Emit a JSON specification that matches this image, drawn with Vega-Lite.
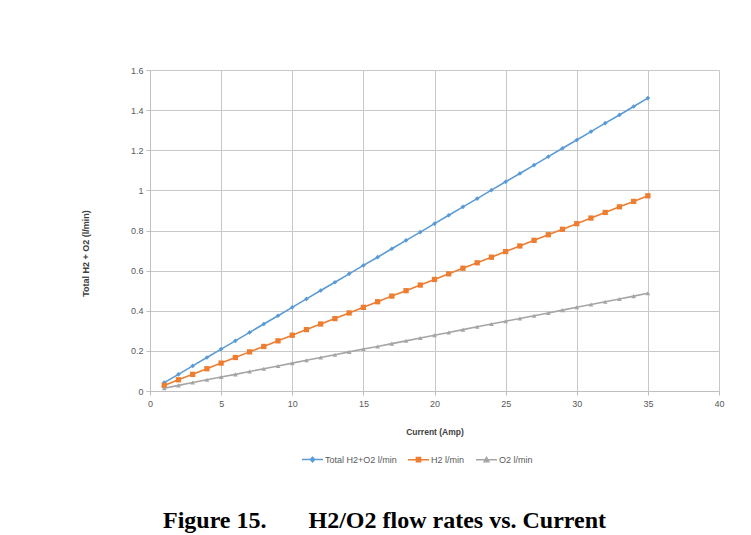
{
  "$schema": "https://vega.github.io/schema/vega-lite/v6.json",
  "width": 569,
  "height": 321,
  "autosize": {"type": "none"},
  "padding": {"left": 150, "top": 70, "right": 32, "bottom": 144},
  "background": "white",
  "title": {
    "text": "Figure 15.\u00a0\u00a0\u00a0\u00a0\u00a0\u00a0 H2/O2 flow rates vs. Current",
    "orient": "bottom",
    "anchor": "middle",
    "dx": -50,
    "offset": 44,
    "font": "Liberation Serif",
    "fontSize": 24,
    "fontWeight": "bold",
    "color": "black"
  },
  "data": {
    "values": [
      {"I": 1, "T": 0.042, "H": 0.028, "O": 0.014},
      {"I": 2, "T": 0.083, "H": 0.056, "O": 0.028},
      {"I": 3, "T": 0.125, "H": 0.083, "O": 0.042},
      {"I": 4, "T": 0.167, "H": 0.111, "O": 0.056},
      {"I": 5, "T": 0.209, "H": 0.139, "O": 0.070},
      {"I": 6, "T": 0.250, "H": 0.167, "O": 0.083},
      {"I": 7, "T": 0.292, "H": 0.195, "O": 0.097},
      {"I": 8, "T": 0.334, "H": 0.222, "O": 0.111},
      {"I": 9, "T": 0.375, "H": 0.250, "O": 0.125},
      {"I": 10, "T": 0.417, "H": 0.278, "O": 0.139},
      {"I": 11, "T": 0.459, "H": 0.306, "O": 0.153},
      {"I": 12, "T": 0.501, "H": 0.334, "O": 0.167},
      {"I": 13, "T": 0.542, "H": 0.361, "O": 0.181},
      {"I": 14, "T": 0.584, "H": 0.389, "O": 0.195},
      {"I": 15, "T": 0.626, "H": 0.417, "O": 0.209},
      {"I": 16, "T": 0.667, "H": 0.445, "O": 0.222},
      {"I": 17, "T": 0.709, "H": 0.473, "O": 0.236},
      {"I": 18, "T": 0.751, "H": 0.500, "O": 0.250},
      {"I": 19, "T": 0.792, "H": 0.528, "O": 0.264},
      {"I": 20, "T": 0.834, "H": 0.556, "O": 0.278},
      {"I": 21, "T": 0.876, "H": 0.584, "O": 0.292},
      {"I": 22, "T": 0.918, "H": 0.612, "O": 0.306},
      {"I": 23, "T": 0.959, "H": 0.639, "O": 0.320},
      {"I": 24, "T": 1.001, "H": 0.667, "O": 0.334},
      {"I": 25, "T": 1.043, "H": 0.695, "O": 0.348},
      {"I": 26, "T": 1.084, "H": 0.723, "O": 0.361},
      {"I": 27, "T": 1.126, "H": 0.751, "O": 0.375},
      {"I": 28, "T": 1.168, "H": 0.779, "O": 0.389},
      {"I": 29, "T": 1.210, "H": 0.806, "O": 0.403},
      {"I": 30, "T": 1.251, "H": 0.834, "O": 0.417},
      {"I": 31, "T": 1.293, "H": 0.862, "O": 0.431},
      {"I": 32, "T": 1.335, "H": 0.890, "O": 0.445},
      {"I": 33, "T": 1.376, "H": 0.918, "O": 0.459},
      {"I": 34, "T": 1.418, "H": 0.945, "O": 0.473},
      {"I": 35, "T": 1.460, "H": 0.973, "O": 0.487}
    ]
  },
  "transform": [{"fold": ["T", "H", "O"], "as": ["series", "flow"]}],
  "encoding": {
    "x": {
      "field": "I",
      "type": "quantitative",
      "scale": {"domain": [0, 40], "nice": false},
      "axis": {
        "values": [0, 5, 10, 15, 20, 25, 30, 35, 40],
        "title": "Current (Amp)",
        "titleFontSize": 8.5,
        "labelPadding": 4,
        "titleY": 40,
        "titleBaseline": "middle",
        "labelFlush": false
      }
    },
    "y": {
      "field": "flow",
      "type": "quantitative",
      "scale": {"domain": [0, 1.6], "nice": false},
      "axis": {
        "values": [0, 0.2, 0.4, 0.6, 0.8, 1, 1.2, 1.4, 1.6],
        "format": "~g",
        "title": "Total H2 + O2 (l/min)",
        "titleFontSize": 9,
        "labelPadding": 3,
        "titleX": -65,
        "titleY": 183,
        "titleBaseline": "middle",
        "titleAngle": 270
      }
    }
  },
  "layer": [
    {
      "mark": {"type": "line", "strokeWidth": 1.6},
      "encoding": {
        "color": {
          "field": "series",
          "type": "nominal",
          "scale": {"domain": ["T", "H", "O"], "range": ["#5B9BD5", "#ED7D31", "#A5A5A5"]},
          "legend": {
            "title": null,
            "orient": "none",
            "direction": "horizontal",
            "legendX": 151,
            "legendY": 378,
            "padding": 0,
            "symbolSize": 441,
            "symbolStrokeWidth": 1.5,
            "labelOffset": 1,
            "columnPadding": 8,
            "labelFont": "Liberation Sans",
            "labelFontSize": 9,
            "labelColor": "#595959",
            "labelExpr": "datum.label == 'T' ? 'Total H2+O2 l/min' : datum.label == 'H' ? 'H2 l/min' : 'O2 l/min'",
            "encode": {
              "symbols": {
                "update": {
                  "shape": {"signal": "datum.value == 'T' ? 'M-1,0H1M0,-0.22L0.2,0L0,0.22L-0.2,0Z' : datum.value == 'H' ? 'M-1,0H1M-0.2,-0.2H0.2V0.2H-0.2Z' : 'M-1,0H1M0,-0.22L0.22,0.18L-0.22,0.18Z'"},
                  "fill": {"scale": "color", "field": "value"},
                  "stroke": {"scale": "color", "field": "value"},
                  "strokeWidth": {"value": 1.5},
                  "opacity": {"value": 1}
                }
              }
            }
          }
        }
      }
    },
    {
      "transform": [{"filter": "datum.series == 'T'"}],
      "mark": {"type": "point", "filled": true, "opacity": 1, "shape": "diamond", "size": 22, "color": "#5B9BD5"}
    },
    {
      "transform": [{"filter": "datum.series == 'H'"}],
      "mark": {"type": "point", "filled": true, "opacity": 1, "shape": "square", "size": 28, "color": "#ED7D31"}
    },
    {
      "transform": [{"filter": "datum.series == 'O'"}],
      "mark": {"type": "point", "filled": true, "opacity": 1, "shape": "triangle-up", "size": 22, "color": "#A5A5A5"}
    }
  ],
  "config": {
    "view": {"stroke": null},
    "axis": {
      "labelFont": "Liberation Sans",
      "labelFontSize": 9,
      "labelColor": "#595959",
      "titleFont": "Liberation Sans",
      "titleFontSize": 8,
      "titleFontWeight": "bold",
      "titleColor": "#404040",
      "gridColor": "#c8c8c8",
      "gridWidth": 1,
      "domainColor": "#bfbfbf",
      "tickColor": "#bfbfbf",
      "tickSize": 4
    }
  }
}
